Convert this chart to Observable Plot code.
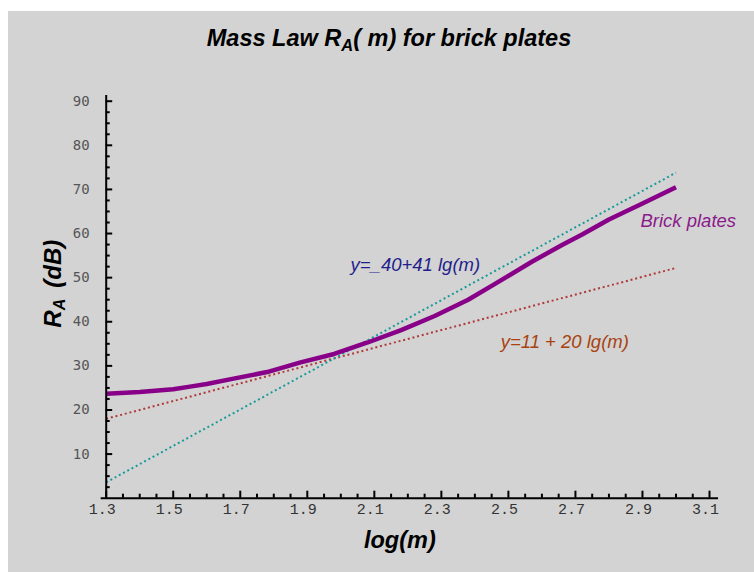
<!DOCTYPE html>
<html>
<head>
<meta charset="utf-8">
<script src="https://cdn.jsdelivr.net/npm/d3@7"></script>
<script src="https://cdn.jsdelivr.net/npm/@observablehq/plot@0.6"></script>
<style>
  html, body { margin: 0; padding: 0; background: #ffffff; width: 754px; height: 572px; overflow: hidden; }
  #panel { position: absolute; left: 8px; top: 11px; width: 746px; height: 561px; background: #d3d3d3; }
  #title { position: absolute; left: 0; top: 25px; width: 778px; text-align: center;
           font-family: "Liberation Sans", Arial, sans-serif; font-weight: bold; font-style: italic;
           font-size: 23.5px; color: #000; line-height: 27px; }
  #title sub { font-size: 70%; vertical-align: -0.28em; line-height: 0; }
  #chart { position: absolute; left: 0; top: 0; }
</style>
</head>
<body>
<div id="panel"></div>
<div id="title">Mass Law R<sub>A</sub>( m) for brick plates</div>
<div id="chart"></div>
<script>
// ---- data ----
const brickX = [1.30, 1.40, 1.50, 1.55, 1.60, 1.68, 1.78, 1.88, 1.98, 2.08, 2.18, 2.28, 2.38, 2.46, 2.57, 2.66, 2.72, 2.80, 2.90, 3.00];
const brickY = [23.7, 24.1, 24.7, 25.3, 25.9, 27.1, 28.6, 30.8, 32.7, 35.3, 38.1, 41.3, 45.0, 48.6, 53.6, 57.4, 59.8, 63.2, 66.8, 70.5];
const fitAX = [1.30, 3.00];          // teal dotted line
const fitAY = [3.6, 73.8];
const fitBX = [1.30, 3.00];          // red dotted line
const fitBY = [18.0, 52.2];
const xTickValues = [1.3, 1.5, 1.7, 1.9, 2.1, 2.3, 2.5, 2.7, 2.9, 3.1];
const xTickLabels = ["1.3", "1.5", "1.7", "1.9", "2.1", "2.3", "2.5", "2.7", "2.9", "3.1"];
const yTickValues = [10, 20, 30, 40, 50, 60, 70, 80, 90];
const yTickLabels = ["10", "20", "30", "40", "50", "60", "70", "80", "90"];
const annotations = [
  {x: 2.029, y: 52.8, text: "y=_40+41 lg(m)", color: "#1f1f8c"},
  {x: 2.477, y: 35.5, text: "y=11 + 20 lg(m)", color: "#a8420f"},
  {x: 2.894, y: 62.9, text: "Brick plates", color: "#8b1a8b"}
];

const brick = brickX.map((x, i) => ({x, y: brickY[i]}));
const fitA = fitAX.map((x, i) => ({x, y: fitAY[i]}));
const fitB = fitBX.map((x, i) => ({x, y: fitBY[i]}));
const xTicks = xTickValues.map((v, i) => ({v, label: xTickLabels[i]}));
const yTicks = yTickValues.map((v, i) => ({v, label: yTickLabels[i]}));

// minor tick positions
const xMinor = d3.range(0, 37).map(i => 1.3 + i * 0.05).filter((v, i) => i % 4 !== 0);
const yMinor = d3.range(1, 37).map(i => i * 2.5).filter(v => v % 10 !== 0);

const monoX = "'Liberation Mono', 'Courier New', monospace";
const monoY = "'DejaVu Sans Mono', monospace";
const sans = "'Liberation Sans', Arial, sans-serif";

const plot = Plot.plot({
  width: 754,
  height: 572,
  marginLeft: 105.7,
  marginRight: 45,
  marginTop: 100.7,
  marginBottom: 74.3,
  x: {domain: [1.3, 3.1], axis: null},
  y: {domain: [0, 90], axis: null},
  style: {background: "transparent", overflow: "visible"},
  marks: [
    // data lines
    Plot.line(fitB, {x: "x", y: "y", stroke: "#b03a3a", strokeWidth: 2, strokeDasharray: "2,2.8", strokeLinecap: "butt"}),
    Plot.line(fitA, {x: "x", y: "y", stroke: "#199a9a", strokeWidth: 2, strokeDasharray: "2,2.8", strokeLinecap: "butt"}),
    Plot.line(brick, {x: "x", y: "y", stroke: "#880088", strokeWidth: 4.5, strokeLinejoin: "round", strokeLinecap: "butt", curve: "linear"}),
    // axes lines
    Plot.ruleY([0], {x1: 1.285, x2: 3.127, stroke: "#000", strokeWidth: 2}),
    Plot.ruleX([1.3], {y1: 0, y2: 91.3, stroke: "#000", strokeWidth: 2}),
    // x ticks
    Plot.ruleX(xTicks, {x: "v", y1: 0, y2: 7 / 4.411, stroke: "#000", strokeWidth: 2}),
    Plot.ruleX(xMinor, {x: d => d, y1: 0, y2: 4 / 4.411, stroke: "#000", strokeWidth: 2}),
    // y ticks
    Plot.ruleY(yTicks, {y: "v", x1: 1.3, x2: 1.3 + 6.5 / 335.2, stroke: "#000", strokeWidth: 2}),
    Plot.ruleY(yMinor, {y: d => d, x1: 1.3, x2: 1.3 + 4 / 335.2, stroke: "#000", strokeWidth: 2}),
    // tick labels
    Plot.text(xTicks, {x: "v", y: 0, text: "label", lineAnchor: "top", dy: 5, dx: -4,
      fontFamily: monoX, fontSize: 15, fill: "#333"}),
    Plot.text(yTicks, {x: 1.3, y: "v", text: "label", textAnchor: "end", lineAnchor: "middle", dx: -16.5,
      fontFamily: monoY, fontSize: 14, fill: "#555"}),
    // annotations
    Plot.text(annotations, {x: "x", y: "y", text: "text", fill: d => d.color, textAnchor: "start", lineAnchor: "middle",
      fontFamily: sans, fontStyle: "italic", fontSize: 18.5}),
    // axis titles
    Plot.text(["log(m)"], {frameAnchor: "bottom", text: d => d, lineAnchor: "bottom", dy: 50, dx: -8,
      fontFamily: sans, fontWeight: "bold", fontStyle: "italic", fontSize: 23.5, fill: "#000"}),
    Plot.text(["R"], {frameAnchor: "left", text: d => d, rotate: -90, textAnchor: "middle", lineAnchor: "middle",
      dx: -53, dy: -16, fontFamily: sans, fontWeight: "bold", fontStyle: "italic", fontSize: 24, fill: "#000",
      className: "ylab"})
  ]
});

document.getElementById("chart").appendChild(plot);

// add subscript and unit to the y-axis title
const yl = plot.querySelector(".ylab text");
if (yl) {
  yl.textContent = "";
  const ns = "http://www.w3.org/2000/svg";
  const t1 = document.createElementNS(ns, "tspan"); t1.textContent = "R";
  const t2 = document.createElementNS(ns, "tspan"); t2.textContent = "A";
  t2.setAttribute("font-size", "16"); t2.setAttribute("dy", "4");
  const t3 = document.createElementNS(ns, "tspan"); t3.textContent = "(dB)";
  t3.setAttribute("dy", "-4"); t3.setAttribute("dx", "11");
  yl.appendChild(t1); yl.appendChild(t2); yl.appendChild(t3);
}
</script>
</body>
</html>
